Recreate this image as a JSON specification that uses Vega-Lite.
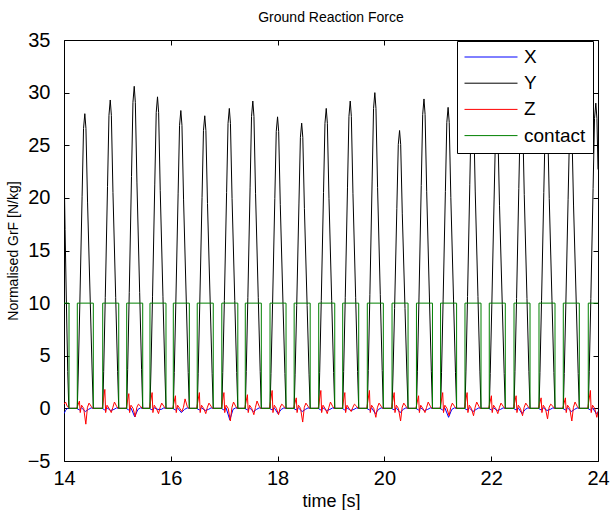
{
"$schema": "https://vega.github.io/schema/vega-lite/v6.json",
"width": 534, "height": 421,
"autosize": "none",
"padding": {"left": 64, "top": 40, "right": 12, "bottom": 49},
"background": "white",
"config": {
 "font": "Liberation Sans",
 "view": {"stroke": "black", "strokeWidth": 1},
 "axis": {"labelFont": "Liberation Sans", "titleFont": "Liberation Sans", "labelColor": "black", "titleColor": "black", "tickColor": "black", "tickWidth": 1, "grid": false, "domain": false, "titleFontWeight": "normal", "labelOverlap": false, "labelFlush": false}
},
"title": {"text": "Ground Reaction Force", "fontSize": 14, "fontWeight": "normal", "font": "Liberation Sans", "color": "black", "offset": 5},
"layer": [
{
 "data": {"values": [
{"t":14,"v":-0.5},{"t":14.03,"v":-0.2},{"t":14.06,"v":0},{"t":14.1,"v":0},
{"t":14.239,"v":0},{"t":14.289,"v":-0.15},{"t":14.329,"v":0.05},{"t":14.399,"v":-0.3},{"t":14.459,"v":-0.1},{"t":14.509,"v":0.05},{"t":14.539,"v":0},
{"t":14.715,"v":0},{"t":14.765,"v":-0.15},{"t":14.805,"v":0.05},{"t":14.875,"v":-0.2},{"t":14.935,"v":-0.1},{"t":14.985,"v":0.05},{"t":15.015,"v":0},
{"t":15.164,"v":0},{"t":15.214,"v":-0.15},{"t":15.254,"v":0.05},{"t":15.324,"v":-0.8},{"t":15.384,"v":-0.1},{"t":15.434,"v":0.05},{"t":15.464,"v":0},
{"t":15.6,"v":0},{"t":15.65,"v":-0.15},{"t":15.69,"v":0.05},{"t":15.76,"v":-0.1},{"t":15.82,"v":-0.1},{"t":15.87,"v":0.05},{"t":15.9,"v":0},
{"t":16.037,"v":0},{"t":16.087,"v":-0.15},{"t":16.127,"v":0.05},{"t":16.197,"v":-0.4},{"t":16.257,"v":-0.1},{"t":16.307,"v":0.05},{"t":16.337,"v":0},
{"t":16.485,"v":0},{"t":16.535,"v":-0.15},{"t":16.575,"v":0.05},{"t":16.645,"v":-0.2},{"t":16.705,"v":-0.1},{"t":16.755,"v":0.05},{"t":16.785,"v":0},
{"t":16.945,"v":0},{"t":16.995,"v":-0.15},{"t":17.035,"v":0.05},{"t":17.105,"v":-1.1},{"t":17.165,"v":-0.1},{"t":17.215,"v":0.05},{"t":17.245,"v":0},
{"t":17.385,"v":0},{"t":17.435,"v":-0.15},{"t":17.475,"v":0.05},{"t":17.545,"v":-0.3},{"t":17.605,"v":-0.1},{"t":17.655,"v":0.05},{"t":17.685,"v":0},
{"t":17.848,"v":0},{"t":17.898,"v":-0.15},{"t":17.938,"v":0.05},{"t":18.008,"v":-0.5},{"t":18.068,"v":-0.1},{"t":18.118,"v":0.05},{"t":18.148,"v":0},
{"t":18.3,"v":0},{"t":18.35,"v":-0.15},{"t":18.39,"v":0.05},{"t":18.46,"v":-0.3},{"t":18.52,"v":-0.1},{"t":18.57,"v":0.05},{"t":18.6,"v":0},
{"t":18.76,"v":0},{"t":18.81,"v":-0.15},{"t":18.85,"v":0.05},{"t":18.92,"v":-0.2},{"t":18.98,"v":-0.1},{"t":19.03,"v":0.05},{"t":19.06,"v":0},
{"t":19.209,"v":0},{"t":19.259,"v":-0.15},{"t":19.299,"v":0.05},{"t":19.369,"v":-0.2},{"t":19.429,"v":-0.1},{"t":19.479,"v":0.05},{"t":19.509,"v":0},
{"t":19.67,"v":0},{"t":19.72,"v":-0.15},{"t":19.76,"v":0.05},{"t":19.83,"v":-0.5},{"t":19.89,"v":-0.1},{"t":19.94,"v":0.05},{"t":19.97,"v":0},
{"t":20.133,"v":0},{"t":20.183,"v":-0.15},{"t":20.223,"v":0.05},{"t":20.293,"v":-0.4},{"t":20.353,"v":-0.1},{"t":20.403,"v":0.05},{"t":20.433,"v":0},
{"t":20.59,"v":0},{"t":20.64,"v":-0.15},{"t":20.68,"v":0.05},{"t":20.75,"v":-0.2},{"t":20.81,"v":-0.1},{"t":20.86,"v":0.05},{"t":20.89,"v":0},
{"t":21.042,"v":0},{"t":21.092,"v":-0.15},{"t":21.132,"v":0.05},{"t":21.202,"v":-0.85},{"t":21.262,"v":-0.1},{"t":21.312,"v":0.05},{"t":21.342,"v":0},
{"t":21.499,"v":0},{"t":21.549,"v":-0.15},{"t":21.589,"v":0.05},{"t":21.659,"v":-0.3},{"t":21.719,"v":-0.1},{"t":21.769,"v":0.05},{"t":21.799,"v":0},
{"t":21.954,"v":0},{"t":22.004,"v":-0.15},{"t":22.044,"v":0.05},{"t":22.114,"v":-0.2},{"t":22.174,"v":-0.1},{"t":22.224,"v":0.05},{"t":22.254,"v":0},
{"t":22.417,"v":0},{"t":22.467,"v":-0.15},{"t":22.507,"v":0.05},{"t":22.577,"v":-0.5},{"t":22.637,"v":-0.1},{"t":22.687,"v":0.05},{"t":22.717,"v":0},
{"t":22.885,"v":0},{"t":22.935,"v":-0.15},{"t":22.975,"v":0.05},{"t":23.045,"v":-0.2},{"t":23.105,"v":-0.1},{"t":23.155,"v":0.05},{"t":23.185,"v":0},
{"t":23.34,"v":0},{"t":23.39,"v":-0.15},{"t":23.43,"v":0.05},{"t":23.5,"v":-0.3},{"t":23.56,"v":-0.1},{"t":23.61,"v":0.05},{"t":23.64,"v":0},
{"t":23.808,"v":0},{"t":23.858,"v":-0.15},{"t":23.898,"v":0.05},{"t":23.968,"v":-0.5},{"t":24.0,"v":-0.3}
 ]},
 "mark": {"type": "line", "strokeWidth": 1, "clip": true},
 "encoding": {
  "x": {"field": "t", "type": "quantitative", "scale": {"domain": [14, 24], "nice": false, "zero": false},
        "axis": {"orient": "bottom", "offset": -5, "values": [14,16,18,20,22,24], "tickSize": 5, "labelFontSize": 20, "labelPadding": 7, "title": "time [s]", "titleFontSize": 18, "titlePadding": 4}},
  "y": {"field": "v", "type": "quantitative", "scale": {"domain": [-5, 35], "nice": false, "zero": false},
        "axis": {"orient": "left", "offset": -5, "values": [-5,0,5,10,15,20,25,30,35], "tickSize": 5, "labelFontSize": 20, "labelPadding": 14, "title": "Normalised GrF [N/kg]", "titleFontSize": 14, "titlePadding": 7}},
  "color": {"datum": "X", "type": "nominal",
   "scale": {"domain": ["X", "Y", "Z", "contact"], "range": ["#0000ff", "#000000", "#ff0000", "#008000"]},
   "legend": {"orient": "none", "legendX": 393, "legendY": 1, "title": null, "strokeColor": "black", "fillColor": "white", "padding": 7, "symbolType": "stroke", "symbolSize": 2809, "symbolStrokeWidth": 1, "clipHeight": 18, "rowPadding": 7.2, "labelFontSize": 19, "labelFont": "Liberation Sans", "labelColor": "black", "labelOffset": 6, "cornerRadius": 0}}
 }
},
{
 "data": {"values": [
{"t":14,"v":23.4},{"t":14.02,"v":17},{"t":14.045,"v":10},{"t":14.07,"v":3.5},{"t":14.09,"v":0},
{"t":14.249,"v":0},{"t":14.267,"v":3.36},{"t":14.297,"v":10.08},{"t":14.339,"v":20.16},{"t":14.366,"v":26.6},{"t":14.39,"v":28},{"t":14.411,"v":26.6},{"t":14.441,"v":19.6},{"t":14.492,"v":10.08},{"t":14.528,"v":3.36},{"t":14.549,"v":0},
{"t":14.725,"v":0},{"t":14.743,"v":3.52},{"t":14.773,"v":10.55},{"t":14.815,"v":21.1},{"t":14.842,"v":27.84},{"t":14.866,"v":29.3},{"t":14.887,"v":27.84},{"t":14.917,"v":20.51},{"t":14.968,"v":10.55},{"t":15.004,"v":3.52},{"t":15.025,"v":0},
{"t":15.174,"v":0},{"t":15.192,"v":3.67},{"t":15.222,"v":11.02},{"t":15.264,"v":22.03},{"t":15.291,"v":29.07},{"t":15.315,"v":30.6},{"t":15.336,"v":29.07},{"t":15.366,"v":21.42},{"t":15.417,"v":11.02},{"t":15.453,"v":3.67},{"t":15.474,"v":0},
{"t":15.61,"v":0},{"t":15.628,"v":3.55},{"t":15.658,"v":10.66},{"t":15.7,"v":21.31},{"t":15.727,"v":28.12},{"t":15.751,"v":29.6},{"t":15.772,"v":28.12},{"t":15.802,"v":20.72},{"t":15.853,"v":10.66},{"t":15.889,"v":3.55},{"t":15.91,"v":0},
{"t":16.047,"v":0},{"t":16.065,"v":3.4},{"t":16.095,"v":10.19},{"t":16.137,"v":20.38},{"t":16.164,"v":26.89},{"t":16.188,"v":28.3},{"t":16.209,"v":26.89},{"t":16.239,"v":19.81},{"t":16.29,"v":10.19},{"t":16.326,"v":3.4},{"t":16.347,"v":0},
{"t":16.495,"v":0},{"t":16.513,"v":3.34},{"t":16.543,"v":10.01},{"t":16.585,"v":20.02},{"t":16.612,"v":26.41},{"t":16.636,"v":27.8},{"t":16.657,"v":26.41},{"t":16.687,"v":19.46},{"t":16.738,"v":10.01},{"t":16.774,"v":3.34},{"t":16.795,"v":0},
{"t":16.955,"v":0},{"t":16.973,"v":3.42},{"t":17.003,"v":10.26},{"t":17.045,"v":20.52},{"t":17.072,"v":27.08},{"t":17.096,"v":28.5},{"t":17.117,"v":27.08},{"t":17.147,"v":19.95},{"t":17.198,"v":10.26},{"t":17.234,"v":3.42},{"t":17.255,"v":0},
{"t":17.395,"v":0},{"t":17.413,"v":3.5},{"t":17.443,"v":10.51},{"t":17.485,"v":21.02},{"t":17.512,"v":27.74},{"t":17.536,"v":29.2},{"t":17.557,"v":27.74},{"t":17.587,"v":20.44},{"t":17.638,"v":10.51},{"t":17.674,"v":3.5},{"t":17.695,"v":0},
{"t":17.858,"v":0},{"t":17.876,"v":3.32},{"t":17.906,"v":9.97},{"t":17.948,"v":19.94},{"t":17.975,"v":26.32},{"t":17.999,"v":27.7},{"t":18.02,"v":26.32},{"t":18.05,"v":19.39},{"t":18.101,"v":9.97},{"t":18.137,"v":3.32},{"t":18.158,"v":0},
{"t":18.31,"v":0},{"t":18.328,"v":3.25},{"t":18.358,"v":9.76},{"t":18.4,"v":19.51},{"t":18.427,"v":25.75},{"t":18.451,"v":27.1},{"t":18.472,"v":25.75},{"t":18.502,"v":18.97},{"t":18.553,"v":9.76},{"t":18.589,"v":3.25},{"t":18.61,"v":0},
{"t":18.77,"v":0},{"t":18.788,"v":3.42},{"t":18.818,"v":10.26},{"t":18.86,"v":20.52},{"t":18.887,"v":27.08},{"t":18.911,"v":28.5},{"t":18.932,"v":27.08},{"t":18.962,"v":19.95},{"t":19.013,"v":10.26},{"t":19.049,"v":3.42},{"t":19.07,"v":0},
{"t":19.219,"v":0},{"t":19.237,"v":3.5},{"t":19.267,"v":10.51},{"t":19.309,"v":21.02},{"t":19.336,"v":27.74},{"t":19.36,"v":29.2},{"t":19.381,"v":27.74},{"t":19.411,"v":20.44},{"t":19.462,"v":10.51},{"t":19.498,"v":3.5},{"t":19.519,"v":0},
{"t":19.68,"v":0},{"t":19.698,"v":3.6},{"t":19.728,"v":10.8},{"t":19.77,"v":21.6},{"t":19.797,"v":28.5},{"t":19.821,"v":30},{"t":19.842,"v":28.5},{"t":19.872,"v":21},{"t":19.923,"v":10.8},{"t":19.959,"v":3.6},{"t":19.98,"v":0},
{"t":20.143,"v":0},{"t":20.161,"v":3.17},{"t":20.191,"v":9.5},{"t":20.233,"v":19.01},{"t":20.26,"v":25.08},{"t":20.284,"v":26.4},{"t":20.305,"v":25.08},{"t":20.335,"v":18.48},{"t":20.386,"v":9.5},{"t":20.422,"v":3.17},{"t":20.443,"v":0},
{"t":20.6,"v":0},{"t":20.618,"v":3.53},{"t":20.648,"v":10.58},{"t":20.69,"v":21.17},{"t":20.717,"v":27.93},{"t":20.741,"v":29.4},{"t":20.762,"v":27.93},{"t":20.792,"v":20.58},{"t":20.843,"v":10.58},{"t":20.879,"v":3.53},{"t":20.9,"v":0},
{"t":21.052,"v":0},{"t":21.07,"v":3.43},{"t":21.1,"v":10.3},{"t":21.142,"v":20.59},{"t":21.169,"v":27.17},{"t":21.193,"v":28.6},{"t":21.214,"v":27.17},{"t":21.244,"v":20.02},{"t":21.295,"v":10.3},{"t":21.331,"v":3.43},{"t":21.352,"v":0},
{"t":21.509,"v":0},{"t":21.527,"v":3.54},{"t":21.557,"v":10.62},{"t":21.599,"v":21.24},{"t":21.626,"v":28.03},{"t":21.65,"v":29.5},{"t":21.671,"v":28.03},{"t":21.701,"v":20.65},{"t":21.752,"v":10.62},{"t":21.788,"v":3.54},{"t":21.809,"v":0},
{"t":21.964,"v":0},{"t":21.982,"v":3.3},{"t":22.012,"v":9.9},{"t":22.054,"v":19.8},{"t":22.081,"v":26.13},{"t":22.105,"v":27.5},{"t":22.126,"v":26.13},{"t":22.156,"v":19.25},{"t":22.207,"v":9.9},{"t":22.243,"v":3.3},{"t":22.264,"v":0},
{"t":22.427,"v":0},{"t":22.445,"v":3.48},{"t":22.475,"v":10.44},{"t":22.517,"v":20.88},{"t":22.544,"v":27.55},{"t":22.568,"v":29},{"t":22.589,"v":27.55},{"t":22.619,"v":20.3},{"t":22.67,"v":10.44},{"t":22.706,"v":3.48},{"t":22.727,"v":0},
{"t":22.895,"v":0},{"t":22.913,"v":3.42},{"t":22.943,"v":10.26},{"t":22.985,"v":20.52},{"t":23.012,"v":27.08},{"t":23.036,"v":28.5},{"t":23.057,"v":27.08},{"t":23.087,"v":19.95},{"t":23.138,"v":10.26},{"t":23.174,"v":3.42},{"t":23.195,"v":0},
{"t":23.35,"v":0},{"t":23.368,"v":3.31},{"t":23.398,"v":9.94},{"t":23.44,"v":19.87},{"t":23.467,"v":26.22},{"t":23.491,"v":27.6},{"t":23.512,"v":26.22},{"t":23.542,"v":19.32},{"t":23.593,"v":9.94},{"t":23.629,"v":3.31},{"t":23.65,"v":0},
{"t":23.818,"v":0},{"t":23.836,"v":3.48},{"t":23.866,"v":10.44},{"t":23.908,"v":20.88},{"t":23.935,"v":27.55},{"t":23.959,"v":29},{"t":23.98,"v":27.55},{"t":24.0,"v":22.7}
 ]},
 "mark": {"type": "line", "strokeWidth": 1, "clip": true},
 "encoding": {
  "x": {"field": "t", "type": "quantitative", "axis": null},
  "y": {"field": "v", "type": "quantitative", "axis": null},
  "color": {"datum": "Y", "type": "nominal"}
 }
},
{
 "data": {"values": [
{"t":14,"v":0.4},{"t":14.03,"v":0.6},{"t":14.06,"v":0.2},{"t":14.1,"v":0},
{"t":14.239,"v":0},{"t":14.289,"v":0.7},{"t":14.304,"v":-0.4},{"t":14.329,"v":0.3},{"t":14.369,"v":0},{"t":14.409,"v":-1.5},{"t":14.439,"v":0.1},{"t":14.469,"v":0.5},{"t":14.509,"v":0.2},{"t":14.539,"v":0},
{"t":14.715,"v":0},{"t":14.765,"v":1.8},{"t":14.78,"v":-0.4},{"t":14.805,"v":0.3},{"t":14.845,"v":0},{"t":14.885,"v":-0.4},{"t":14.915,"v":0.1},{"t":14.945,"v":0.6},{"t":14.985,"v":0.2},{"t":15.015,"v":0},
{"t":15.164,"v":0},{"t":15.214,"v":1.4},{"t":15.229,"v":-0.4},{"t":15.254,"v":0.3},{"t":15.294,"v":0},{"t":15.334,"v":-0.8},{"t":15.364,"v":0.1},{"t":15.394,"v":0.4},{"t":15.434,"v":0.2},{"t":15.464,"v":0},
{"t":15.6,"v":0},{"t":15.65,"v":1.5},{"t":15.665,"v":-0.4},{"t":15.69,"v":0.3},{"t":15.73,"v":0},{"t":15.77,"v":-0.5},{"t":15.8,"v":0.1},{"t":15.83,"v":0.5},{"t":15.87,"v":0.2},{"t":15.9,"v":0},
{"t":16.037,"v":0},{"t":16.087,"v":1.2},{"t":16.102,"v":-0.4},{"t":16.127,"v":0.3},{"t":16.167,"v":0},{"t":16.207,"v":-0.3},{"t":16.237,"v":0.1},{"t":16.267,"v":0.9},{"t":16.307,"v":0.2},{"t":16.337,"v":0},
{"t":16.485,"v":0},{"t":16.535,"v":1.5},{"t":16.55,"v":-0.4},{"t":16.575,"v":0.3},{"t":16.615,"v":0},{"t":16.655,"v":-0.5},{"t":16.685,"v":0.1},{"t":16.715,"v":0.5},{"t":16.755,"v":0.2},{"t":16.785,"v":0},
{"t":16.945,"v":0},{"t":16.995,"v":1.5},{"t":17.01,"v":-0.4},{"t":17.035,"v":0.3},{"t":17.075,"v":0},{"t":17.115,"v":-1.2},{"t":17.145,"v":0.1},{"t":17.175,"v":0.6},{"t":17.215,"v":0.2},{"t":17.245,"v":0},
{"t":17.385,"v":0},{"t":17.435,"v":1.3},{"t":17.45,"v":-0.4},{"t":17.475,"v":0.3},{"t":17.515,"v":0},{"t":17.555,"v":-0.6},{"t":17.585,"v":0.1},{"t":17.615,"v":0.7},{"t":17.655,"v":0.2},{"t":17.685,"v":0},
{"t":17.848,"v":0},{"t":17.898,"v":1.7},{"t":17.913,"v":-0.4},{"t":17.938,"v":0.3},{"t":17.978,"v":0},{"t":18.018,"v":-0.6},{"t":18.048,"v":0.1},{"t":18.078,"v":0.4},{"t":18.118,"v":0.2},{"t":18.148,"v":0},
{"t":18.3,"v":0},{"t":18.35,"v":1.0},{"t":18.365,"v":-0.4},{"t":18.39,"v":0.3},{"t":18.43,"v":0},{"t":18.47,"v":-1.3},{"t":18.5,"v":0.1},{"t":18.53,"v":0.5},{"t":18.57,"v":0.2},{"t":18.6,"v":0},
{"t":18.76,"v":0},{"t":18.81,"v":1.7},{"t":18.825,"v":-0.4},{"t":18.85,"v":0.3},{"t":18.89,"v":0},{"t":18.93,"v":-0.5},{"t":18.96,"v":0.1},{"t":18.99,"v":0.6},{"t":19.03,"v":0.2},{"t":19.06,"v":0},
{"t":19.209,"v":0},{"t":19.259,"v":1.5},{"t":19.274,"v":-0.4},{"t":19.299,"v":0.3},{"t":19.339,"v":0},{"t":19.379,"v":-0.3},{"t":19.409,"v":0.1},{"t":19.439,"v":0.4},{"t":19.479,"v":0.2},{"t":19.509,"v":0},
{"t":19.67,"v":0},{"t":19.72,"v":1.7},{"t":19.735,"v":-0.4},{"t":19.76,"v":0.3},{"t":19.8,"v":0},{"t":19.84,"v":-0.85},{"t":19.87,"v":0.1},{"t":19.9,"v":0.5},{"t":19.94,"v":0.2},{"t":19.97,"v":0},
{"t":20.133,"v":0},{"t":20.183,"v":1.5},{"t":20.198,"v":-0.4},{"t":20.223,"v":0.3},{"t":20.263,"v":0},{"t":20.303,"v":-1.2},{"t":20.333,"v":0.1},{"t":20.363,"v":0.5},{"t":20.403,"v":0.2},{"t":20.433,"v":0},
{"t":20.59,"v":0},{"t":20.64,"v":1.2},{"t":20.655,"v":-0.4},{"t":20.68,"v":0.3},{"t":20.72,"v":0},{"t":20.76,"v":-0.4},{"t":20.79,"v":0.1},{"t":20.82,"v":0.6},{"t":20.86,"v":0.2},{"t":20.89,"v":0},
{"t":21.042,"v":0},{"t":21.092,"v":1.5},{"t":21.107,"v":-0.4},{"t":21.132,"v":0.3},{"t":21.172,"v":0},{"t":21.212,"v":-0.7},{"t":21.242,"v":0.1},{"t":21.272,"v":0.5},{"t":21.312,"v":0.2},{"t":21.342,"v":0},
{"t":21.499,"v":0},{"t":21.549,"v":1.5},{"t":21.564,"v":-0.4},{"t":21.589,"v":0.3},{"t":21.629,"v":0},{"t":21.669,"v":-0.7},{"t":21.699,"v":0.1},{"t":21.729,"v":0.6},{"t":21.769,"v":0.2},{"t":21.799,"v":0},
{"t":21.954,"v":0},{"t":22.004,"v":1.2},{"t":22.019,"v":-0.4},{"t":22.044,"v":0.3},{"t":22.084,"v":0},{"t":22.124,"v":-0.5},{"t":22.154,"v":0.1},{"t":22.184,"v":0.5},{"t":22.224,"v":0.2},{"t":22.254,"v":0},
{"t":22.417,"v":0},{"t":22.467,"v":1.2},{"t":22.482,"v":-0.4},{"t":22.507,"v":0.3},{"t":22.547,"v":0},{"t":22.587,"v":-0.7},{"t":22.617,"v":0.1},{"t":22.647,"v":0.5},{"t":22.687,"v":0.2},{"t":22.717,"v":0},
{"t":22.885,"v":0},{"t":22.935,"v":1.0},{"t":22.95,"v":-0.4},{"t":22.975,"v":0.3},{"t":23.015,"v":0},{"t":23.055,"v":-1.0},{"t":23.085,"v":0.1},{"t":23.115,"v":0.4},{"t":23.155,"v":0.2},{"t":23.185,"v":0},
{"t":23.34,"v":0},{"t":23.39,"v":1.0},{"t":23.405,"v":-0.4},{"t":23.43,"v":0.3},{"t":23.47,"v":0},{"t":23.51,"v":-1.2},{"t":23.54,"v":0.1},{"t":23.57,"v":0.6},{"t":23.61,"v":0.2},{"t":23.64,"v":0},
{"t":23.808,"v":0},{"t":23.858,"v":1.7},{"t":23.873,"v":-0.4},{"t":23.898,"v":0.3},{"t":23.938,"v":0},{"t":23.978,"v":-0.85},{"t":24.0,"v":-0.3}
 ]},
 "mark": {"type": "line", "strokeWidth": 1, "clip": true},
 "encoding": {
  "x": {"field": "t", "type": "quantitative", "axis": null},
  "y": {"field": "v", "type": "quantitative", "axis": null},
  "color": {"datum": "Z", "type": "nominal"}
 }
},
{
 "data": {"values": [
{"t":14,"v":10},{"t":14.094,"v":0},{"t":14.249,"v":10},{"t":14.549,"v":0},{"t":14.725,"v":10},{"t":15.025,"v":0},{"t":15.174,"v":10},{"t":15.474,"v":0},{"t":15.61,"v":10},{"t":15.91,"v":0},{"t":16.047,"v":10},{"t":16.347,"v":0},{"t":16.495,"v":10},{"t":16.795,"v":0},{"t":16.955,"v":10},{"t":17.255,"v":0},{"t":17.395,"v":10},{"t":17.695,"v":0},{"t":17.858,"v":10},{"t":18.158,"v":0},{"t":18.31,"v":10},{"t":18.61,"v":0},{"t":18.77,"v":10},{"t":19.07,"v":0},{"t":19.219,"v":10},{"t":19.519,"v":0},{"t":19.68,"v":10},{"t":19.98,"v":0},{"t":20.143,"v":10},{"t":20.443,"v":0},{"t":20.6,"v":10},{"t":20.9,"v":0},{"t":21.052,"v":10},{"t":21.352,"v":0},{"t":21.509,"v":10},{"t":21.809,"v":0},{"t":21.964,"v":10},{"t":22.264,"v":0},{"t":22.427,"v":10},{"t":22.727,"v":0},{"t":22.895,"v":10},{"t":23.195,"v":0},{"t":23.35,"v":10},{"t":23.65,"v":0},{"t":23.818,"v":10},{"t":24,"v":10}
 ]},
 "mark": {"type": "line", "strokeWidth": 1, "clip": true, "interpolate": "step-after"},
 "encoding": {
  "x": {"field": "t", "type": "quantitative",
        "axis": {"orient": "top", "offset": -5, "values": [14,16,18,20,22,24], "tickSize": 5, "labels": false, "title": null}},
  "y": {"field": "v", "type": "quantitative",
        "axis": {"orient": "right", "offset": -5, "values": [-5,0,5,10,15,20,25,30,35], "tickSize": 5, "labels": false, "title": null}},
  "color": {"datum": "contact", "type": "nominal"}
 }
}
],
"resolve": {"axis": {"x": "independent", "y": "independent"}}
}
